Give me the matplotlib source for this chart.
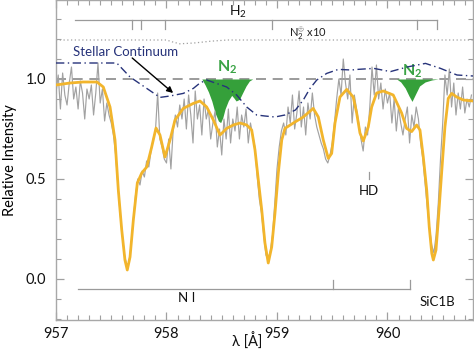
import matplotlib
matplotlib.use("Agg")
import matplotlib.pyplot as plt
import numpy as np
from matplotlib.ticker import MultipleLocator

plt.rcParams['font.family'] = ['Lato', 'DejaVu Sans']
plt.rcParams['mathtext.fontset'] = 'custom'
plt.rcParams['mathtext.rm'] = 'Lato'
plt.rcParams['mathtext.it'] = 'Lato:italic'
plt.rcParams['mathtext.bf'] = 'Lato:bold'

# ---------------- data ----------------
# observed spectrum (gray), sampled every 0.02 A from 957.00
obs_start = 957.00
obs_step = 0.02
obs_flux = [
    0.93, 1.02, 0.85, 1.03, 0.92, 0.87, 0.98, 1.06, 0.90, 0.96,
    0.85, 0.99, 0.93, 0.80, 0.95, 0.90, 0.97, 0.82, 0.93, 1.08,
    0.88, 0.95, 0.79, 0.88, 0.82, 0.78, 0.72, 0.62, 0.47, 0.33,
    0.22, 0.12, 0.07, 0.08, 0.17, 0.30, 0.42, 0.50, 0.47, 0.54,
    0.51, 0.59, 0.56, 0.64, 0.70, 0.74, 0.93, 0.70, 0.66, 0.60,
    0.58, 0.70, 0.55, 0.74, 0.82, 0.76, 0.87, 0.80, 0.90, 0.75,
    0.92, 0.82, 0.68, 0.94, 0.80, 0.87, 0.72, 0.90, 0.80, 0.85,
    0.70, 0.78, 0.84, 0.66, 0.75, 0.62, 0.80, 0.70, 0.85, 0.68,
    0.80, 0.74, 0.86, 0.70, 0.82, 0.76, 0.85, 0.68, 0.78, 0.72,
    0.66, 0.52, 0.40, 0.33, 0.22, 0.12, 0.10, 0.14, 0.22, 0.38,
    0.55, 0.66, 0.74, 0.78, 0.72, 0.86, 0.78, 0.92, 0.75, 0.83,
    0.94, 0.76, 0.86, 0.72, 0.88, 0.80, 0.93, 0.82, 0.76, 0.72,
    0.68, 0.65, 0.60, 0.58, 0.62, 0.68, 0.78, 0.90, 1.00, 0.92,
    1.10, 0.98, 0.90, 1.02, 0.78, 0.92, 0.85, 0.78, 0.70, 0.64,
    0.76, 0.72, 0.86, 1.06, 0.92, 1.07, 0.90, 0.98, 0.85, 0.95,
    0.88, 0.93, 0.78, 0.90, 0.74, 0.86, 0.78, 0.72, 0.80, 0.86,
    0.68, 0.82, 0.76, 0.86, 0.80, 0.68, 0.60, 0.48, 0.36, 0.26,
    0.17, 0.13, 0.22, 0.38, 0.60, 0.78, 1.02, 0.92, 1.05, 0.86,
    0.98, 0.82, 0.93, 0.85, 0.96, 0.83, 0.90, 0.86, 0.92,
]

# model fit (orange)
model_wl = [957.000, 957.127, 957.244, 957.371, 957.428, 957.489, 957.534, 957.564,
            957.595, 957.624, 957.645, 957.670, 957.700, 957.736, 957.776, 957.821,
            957.866, 957.905, 957.941, 957.986, 958.032, 958.077, 958.152, 958.243,
            958.303, 958.364, 958.424, 958.484, 958.545, 958.605, 958.665, 958.726,
            958.771, 958.801, 958.831, 958.862, 958.891, 958.921, 958.952, 958.982,
            959.012, 959.043, 959.072, 959.148, 959.238, 959.328, 959.374, 959.419,
            959.464, 959.495, 959.525, 959.570, 959.631, 959.690, 959.721, 959.751,
            959.781, 959.826, 959.857, 959.902, 959.962, 960.052, 960.128, 960.173,
            960.219, 960.264, 960.294, 960.324, 960.355, 960.378, 960.401, 960.415,
            960.439, 960.460, 960.490, 960.520, 960.550, 960.581, 960.626, 960.686,
            960.774]
model_flux = [0.970, 0.980, 0.985, 0.985, 0.960, 0.860, 0.695, 0.445,
              0.245, 0.095, 0.045, 0.110, 0.295, 0.480, 0.530, 0.560,
              0.660, 0.755, 0.720, 0.610, 0.695, 0.795, 0.853, 0.878,
              0.890, 0.860, 0.795, 0.720, 0.753, 0.770, 0.780, 0.770,
              0.745, 0.645, 0.495, 0.345, 0.180, 0.080, 0.160, 0.330,
              0.530, 0.695, 0.753, 0.780, 0.810, 0.853, 0.810, 0.695,
              0.603, 0.628, 0.780, 0.910, 0.948, 0.910, 0.830, 0.730,
              0.690, 0.760, 0.860, 0.930, 0.940, 0.920, 0.830, 0.753,
              0.737, 0.770, 0.745, 0.610, 0.445, 0.260, 0.128, 0.095,
              0.145, 0.295, 0.530, 0.760, 0.903, 0.928, 0.910, 0.895,
              0.890]

# stellar continuum (dash-dot)
cont_wl = [957.000, 957.550, 957.670, 957.821, 957.941, 958.032, 958.152, 958.243,
           958.303, 958.364, 958.545, 958.635, 958.726, 958.816, 958.891, 958.982,
           959.072, 959.167, 959.238, 959.299, 959.360, 959.450, 959.555, 959.676,
           959.727, 959.877, 960.027, 960.178, 960.344, 960.480, 960.629, 960.774]
cont_flux = [1.080, 1.080, 1.010, 0.953, 0.908, 0.915, 0.928, 0.953,
             0.980, 0.995, 0.960, 0.920, 0.860, 0.820, 0.815, 0.810,
             0.820, 0.845, 0.895, 0.953, 0.995, 1.028, 1.048, 1.045,
             1.048, 1.053, 1.037, 1.060, 1.078, 1.053, 1.020, 1.015]

# N2+ x10 (dotted)
n2p_wl = [957.000, 958.000, 958.050, 958.120, 958.250, 958.400, 958.550, 960.774]
n2p_flux = [1.195, 1.195, 1.186, 1.176, 1.180, 1.189, 1.195, 1.195]

# N2 absorption features (green fill)
n2a_wl = [958.320, 958.350, 958.380, 958.410, 958.440, 958.470, 958.490, 958.510,
          958.530, 958.560, 958.590, 958.610, 958.630, 958.660, 958.690, 958.720,
          958.750, 958.780]
n2a_flux = [1.000, 0.970, 0.935, 0.890, 0.830, 0.790, 0.782, 0.808,
            0.850, 0.892, 0.918, 0.905, 0.890, 0.898, 0.932, 0.965,
            0.990, 1.000]
n2b_wl = [960.083, 960.120, 960.160, 960.195, 960.222, 960.250, 960.290, 960.340,
          960.400, 960.460]
n2b_flux = [1.000, 0.985, 0.955, 0.915, 0.888, 0.920, 0.965, 0.985, 0.995, 1.000]

# line identification markers
h2_lines = [957.685, 957.767, 957.986, 958.957, 960.264, 960.445]
h2_span = [957.17, 960.445]
ni_lines = [959.507, 960.204]
ni_span = [957.20, 960.204]
hd_line = 959.83

# ---------------- plot ----------------
fig = plt.figure(figsize=(4.74, 3.53), dpi=100)
ax = fig.add_axes([56 / 474, 33 / 353, 417 / 474, 320 / 353])
ax.set_xlim(957.0, 960.774)
ax.set_ylim(-0.205, 1.395)

obs_wl = obs_start + obs_step * np.arange(len(obs_flux))

# green N2 fills
green = '#35a03a'
ax.fill_between(n2a_wl, n2a_flux, 1.0, color=green, lw=0, zorder=2)
ax.fill_between(n2b_wl, n2b_flux, 1.0, color=green, lw=0, zorder=2)

# unit line
ax.axhline(1.0, color='#8a8a8a', lw=1.2, ls=(0, (6, 4)), zorder=1)

# observed spectrum
ax.plot(obs_wl, obs_flux, color='#a2a2a2', lw=0.85, zorder=3)

# model
ax.plot(model_wl, model_flux, color='#f2b52c', lw=2.0, zorder=4,
        solid_joinstyle='round')

# continuum
ax.plot(cont_wl, cont_flux, color='#27337a', lw=1.0, ls=(0, (6, 2.5, 1, 2.5)), zorder=5)

# N2+ dotted
ax.plot(n2p_wl, n2p_flux, color='#a0a0a0', lw=0.9, ls=(0, (1, 2)), zorder=1)

# H2 bracket
bc = '#9a9a9a'
ax.plot(h2_span, [1.295, 1.295], color=bc, lw=0.9)
for w in h2_lines:
    ax.plot([w, w], [1.295, 1.25], color=bc, lw=0.9)
ax.text(958.65, 1.335, 'H$_2$', ha='center', va='center', fontsize=10, color='#111111')
ax.text(959.28, 1.225, r'N$_2^{\oplus}$ x10', ha='center', va='center', fontsize=8,
        color='#222222')

# N I bracket
ax.plot(ni_span, [-0.05, -0.05], color=bc, lw=0.9)
for w in ni_lines:
    ax.plot([w, w], [-0.05, -0.005], color=bc, lw=0.9)
ax.text(958.18, -0.095, 'N I', ha='center', va='center', fontsize=9.5, color='#111111')

# HD
ax.plot([hd_line, hd_line], [0.50, 0.535], color=bc, lw=0.9)
ax.text(hd_line, 0.44, 'HD', ha='center', va='center', fontsize=9.5, color='#111111')

ax.text(960.45, -0.115, 'SiC1B', ha='center', va='center', fontsize=9.5, color='#111111')

# N2 labels
ax.text(958.545, 1.06, r'N$_\mathbf{2}$', ha='center', va='center', fontsize=11.5,
        color='#3aa345', fontweight='bold')
ax.text(960.22, 1.037, r'N$_\mathbf{2}$', ha='center', va='center', fontsize=11.5,
        color='#3aa345', fontweight='bold')

# Stellar continuum label + arrow
ax.text(957.15, 1.1325, 'Stellar Continuum', ha='left', va='center', fontsize=9.5,
        color='#27337a')
ax.annotate('', xy=(958.06, 0.93), xytext=(957.69, 1.105),
            arrowprops=dict(arrowstyle='-|>', color='black', lw=1.0,
                            mutation_scale=9, shrinkA=0, shrinkB=0))

# axes styling
for s in ax.spines.values():
    s.set_color('#a8a8a8')
    s.set_linewidth(1.0)
ax.xaxis.set_major_locator(MultipleLocator(1))
ax.xaxis.set_minor_locator(MultipleLocator(0.1))
ax.yaxis.set_major_locator(MultipleLocator(0.5))
ax.yaxis.set_minor_locator(MultipleLocator(0.1))
ax.tick_params(which='both', direction='in', top=True, right=True, color='#a0a0a0',
               labelcolor='#111111', labelsize=10.5)
ax.tick_params(which='major', length=6, width=0.9)
ax.tick_params(which='minor', length=3.5, width=0.8)
ax.tick_params(axis='x', pad=5)
ax.tick_params(axis='y', pad=7)
ax.xaxis.set_major_formatter(plt.FuncFormatter(lambda v, p: f'{v:.0f}'))
ax.yaxis.set_major_formatter(plt.FuncFormatter(lambda v, p: f'{v:.1f}'))

fig.text(247 / 474, 1 - 341 / 353, 'λ [Å]', ha='center', va='center', fontsize=10.5,
         color='#111111')
ax.set_ylabel('Relative Intensity', fontsize=10.5, labelpad=6)

fig.savefig('out.png', dpi=100)
